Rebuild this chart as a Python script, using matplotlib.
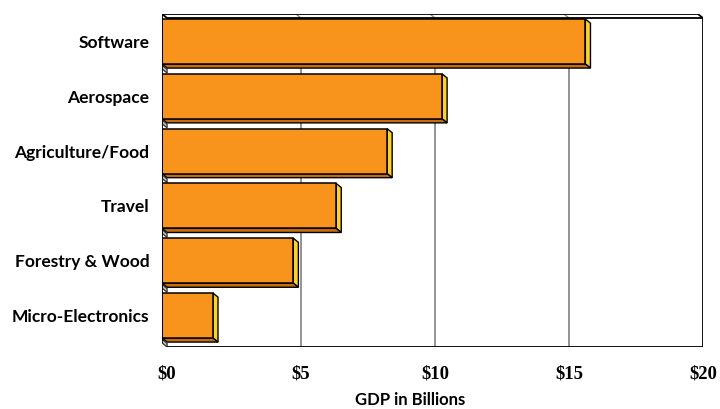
import matplotlib
matplotlib.use("Agg")
import matplotlib.pyplot as plt
from matplotlib.patches import Polygon
import numpy as np

# Industry GDP, bottom-to-top order as drawn
categories = ["Micro-Electronics", "Forestry & Wood", "Travel",
              "Agriculture/Food", "Aerospace", "Software"]
gdp_billions = [1.9, 4.9, 6.5, 8.4, 10.45, 15.8]
tick_values = [0, 5, 10, 15, 20]
tick_labels = ["$0", "$5", "$10", "$15", "$20"]

FRONT = "#F8941C"
SIDE = "#FAD22C"
BOTTOM = "#C86B0A"
WEDGE = "#C0C0C0"
GRID = "#8A8A8A"

# extrusion of the pseudo-3D boxes, in data units
DX = 0.19
DY = 0.075
BAR_H = 0.82
XMAX = 20
YLO, YHI = -0.575, 5.502

fig = plt.figure(figsize=(7.2, 4.09), dpi=100)
ax = fig.add_axes([162 / 720, (409 - 347) / 409, (703 - 162) / 720, 333 / 409])
ax.set_xlim(0, XMAX + DX)
ax.set_ylim(YLO, YHI)
for s in ax.spines.values():
    s.set_visible(False)

# back-wall gridlines
for g in tick_values[1:-1]:
    ax.plot([g + DX, g + DX], [YLO, YHI - DY], color=GRID, lw=1.3, zorder=1)
    ax.plot([g + DX, g], [YHI - DY, YHI], color=GRID, lw=1.0, zorder=1)

# frame of the plotting box
k = dict(color="black", lw=1.3, zorder=5, solid_capstyle="butt")
ax.plot([0, XMAX], [YHI, YHI], **k)
ax.plot([DX, XMAX + DX], [YHI - DY, YHI - DY], **k)
ax.plot([0, DX], [YHI, YHI - DY], **k)
ax.plot([XMAX, XMAX + DX], [YHI, YHI - DY], **k)
ax.plot([XMAX + DX, XMAX + DX], [YHI - DY, YLO], **k)
ax.plot([DX, XMAX + DX], [YLO, YLO], **k)
ax.plot([0, 0], [YHI, YLO + DY], **k)

y = np.arange(len(categories))
ax.barh(y, gdp_billions, height=BAR_H, color=FRONT, edgecolor="black",
        linewidth=1.1, zorder=4)

for yi, v in zip(y, gdp_billions):
    t = yi + BAR_H / 2
    b = yi - BAR_H / 2
    side = Polygon([(v, t), (v + DX, t - DY), (v + DX, b - DY), (v, b)],
                   closed=True, facecolor=SIDE, edgecolor="black", lw=1.0, zorder=3)
    bottom = Polygon([(0, b), (v, b), (v + DX, b - DY), (DX, b - DY)],
                     closed=True, facecolor=BOTTOM, edgecolor="black", lw=1.0, zorder=3)
    wedge = Polygon([(0, b - DY * 0.3), (DX, b - DY * 1.3), (DX, b - DY * 2.2),
                     (0, b - DY * 1.2)],
                    closed=True, facecolor=WEDGE, edgecolor="#333333", lw=0.9, zorder=3)
    ax.add_patch(side)
    ax.add_patch(bottom)
    ax.add_patch(wedge)

ax.set_yticks(y)
ax.set_yticklabels(categories, fontfamily="Lato", fontweight="bold", fontsize=12.5)
ax.tick_params(axis="y", length=0, pad=9)

ax.set_xticks([v + DX for v in tick_values])
ax.set_xticklabels(tick_labels, fontfamily="Liberation Serif", fontweight="bold",
                   fontsize=13.5)
ax.tick_params(axis="x", length=0, pad=13)

ax.set_xlabel("GDP in Billions", fontfamily="Lato", fontweight="bold", fontsize=12,
              labelpad=7)
ax.xaxis.label.set_x((410 - 162) / (703 - 162))

fig.savefig("out.png", dpi=100)
